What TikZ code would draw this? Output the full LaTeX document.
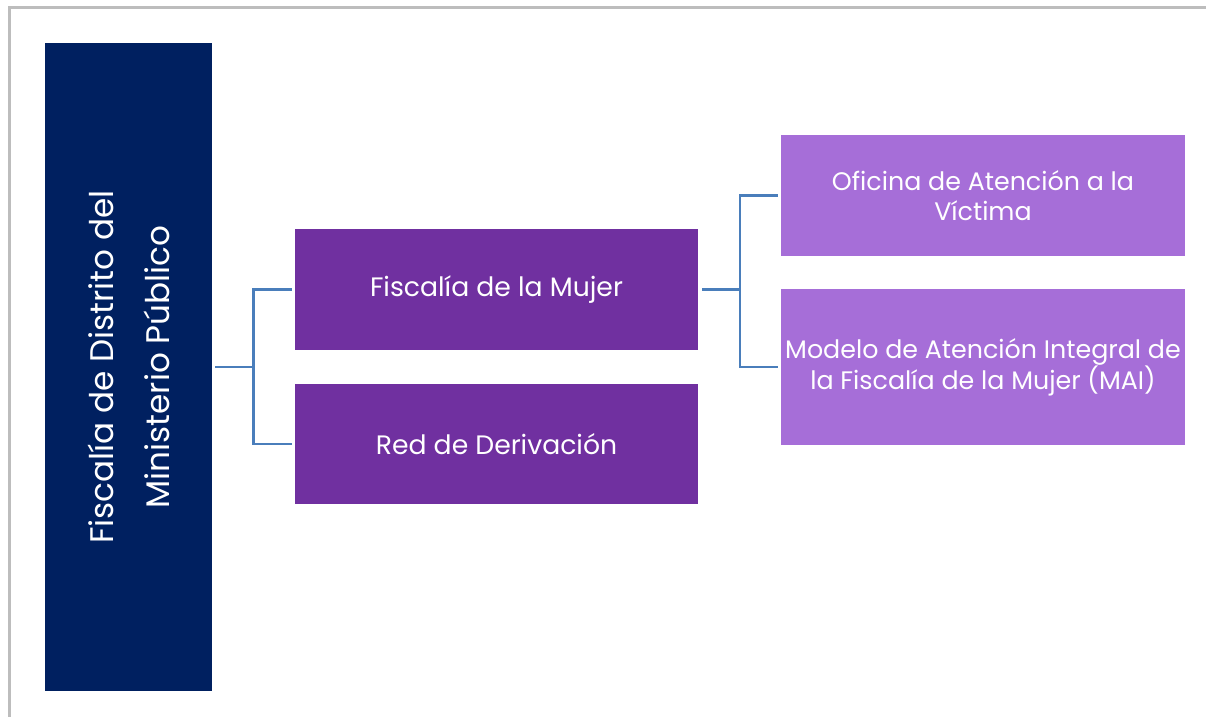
\documentclass[tikz,border=0pt]{standalone}
\usepackage{fontspec}
\setmainfont{Poppins}
\usetikzlibrary{backgrounds,calc}

\definecolor{navy}{HTML}{002060}
\definecolor{mujerpurple}{HTML}{7030A0}
\definecolor{lightpurple}{HTML}{A66ED8}
\definecolor{linkblue}{HTML}{4A7EBB}
\definecolor{framegray}{HTML}{BDBDBD}

\begin{document}
\begin{tikzpicture}[x=0.75pt,y=-0.75pt]
    % `root' is the tall box on the left, `roottext' its turned label.
    % `branch' is used for the two middle boxes, `leaf' for the ones on the right.
    % `link' is used for the connector lines.
    \tikzstyle{root} = [fill=navy,minimum width=125.25pt,minimum height=486pt,inner sep=0pt]
    \tikzstyle{roottext} = [rotate=90,text=white,align=center,font=\fontsize{24.5}{42}\selectfont]
    \tikzstyle{branch} = [fill=mujerpurple,text=white,minimum width=302.25pt,minimum height=90.75pt,inner sep=0pt,font=\fontsize{20}{24}\selectfont]
    \tikzstyle{leaf} = [fill=lightpurple,text=white,minimum width=303pt,inner sep=0pt,align=center,font=\fontsize{19}{23}\selectfont]
    \tikzstyle{link} = [draw=linkblue,line width=1.8pt]
    %
    \useasboundingbox (0,0) rectangle (1206,717);
    % Boxes.
    \node[root] (fiscalia) at (128.5,367) {};
    \node[roottext] (fiscaliatext) at (fiscalia.center) {Fiscalía de Distrito del\\Ministerio Público};
    \node[branch] (mujer) at (496.5,289.5) {Fiscalía de la Mujer};
    \node[branch,minimum height=90pt] (red) at (496.5,444) {Red de Derivación};
    \node[leaf,minimum height=90.75pt] (oficina) at (983,195.5) {Oficina de Atención a la\\Víctima};
    \node[leaf,minimum height=117pt] (modelo) at (983,367) {Modelo de Atención Integral de\\la Fiscalía de la Mujer (MAI)};
    % Junctions of the lines.
    \coordinate (j1) at (253.5,367);
    \coordinate (j2) at (740,289.5);
    % Draw lines.
    \draw[link] ([xshift=2.25pt]fiscalia.east) -- (j1);
    \draw[link] (j1) |- ([xshift=-2.25pt]mujer.west);
    \draw[link] (j1) |- ([xshift=-2.25pt]red.west);
    \draw[link] ([xshift=3pt]mujer.east) -- (j2);
    \draw[link] (j2) |- ([xshift=-2.25pt]oficina.west);
    \draw[link] (j2) |- ([xshift=-2.25pt]modelo.west);
    \begin{pgfonlayer}{background}
        % Draw the frame.
        \draw[framegray,line width=2.25pt] (9.5,717) |- (1206,7.5);
    \end{pgfonlayer}
\end{tikzpicture}
\end{document}
